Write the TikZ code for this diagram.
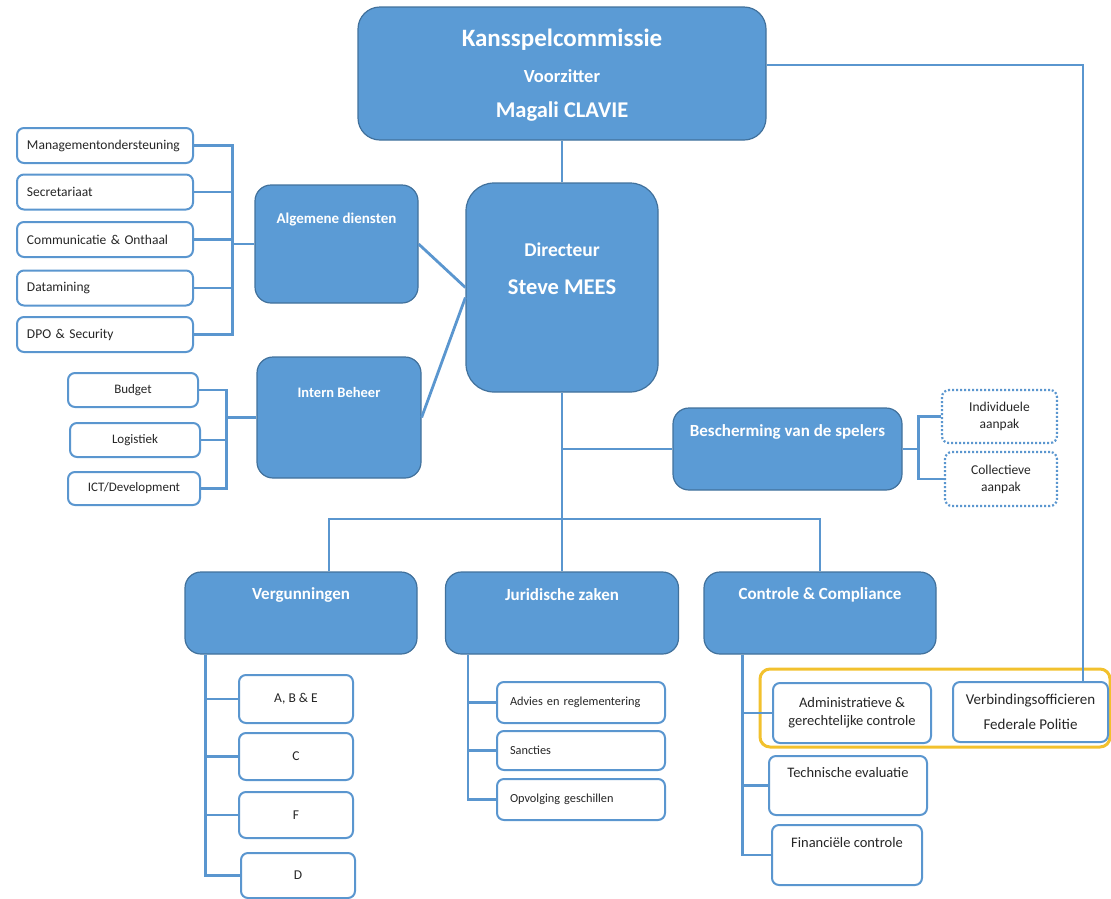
\documentclass[tikz,border=0pt]{standalone}
\usepackage{fontspec}
\setmainfont{Carlito}
\usetikzlibrary{positioning}
\definecolor{kspblue}{HTML}{5B9BD5}
\definecolor{kspedge}{HTML}{41719C}
\definecolor{kspline}{HTML}{5A96CF}
\definecolor{kspgold}{HTML}{F2C12E}

\begin{document}
\begin{tikzpicture}[x=1pt,y=-1pt,
  unit/.style={draw=kspedge,fill=kspblue,line width=1.2pt,rounded corners=16pt},
  unittxt/.style={text=white,font=\bfseries\fontsize{17}{20}\selectfont,inner sep=0pt},
  sub/.style={draw=kspline,fill=white,line width=2pt,rounded corners=7pt,text=black!85,
    font=\fontsize{13.5}{17}\selectfont,align=center},
  leftsub/.style={sub,align=left,inner xsep=10pt},
  dotsub/.style={sub,dotted,line width=2.2pt,font=\fontsize{13.5}{17}\selectfont},
  subtxt/.style={text=black!85,font=\fontsize{14.5}{18}\selectfont,inner sep=0pt},
  link/.style={draw=kspline,line width=2.8pt}]
\useasboundingbox (0,0) rectangle (1111,898);

\draw[draw=kspgold,line width=3pt,rounded corners=10pt] (760,669) rectangle (1110,747);

\node[unit,minimum width=408pt,minimum height=133pt,rounded corners=22pt] (ksc) at (562,73.5) {};
\node[unittxt,font=\bfseries\fontsize{25}{30}\selectfont] (ksctxt) at (562,40) {Kansspelcommissie};
\node[unittxt,font=\bfseries\fontsize{18.5}{22}\selectfont] (kscrole) at (562,76) {Voorzitter};
\node[unittxt,font=\bfseries\fontsize{22.5}{27}\selectfont] (kscname) at (562,112) {Magali CLAVIE};

\node[unit,minimum width=192pt,minimum height=209pt,rounded corners=28pt] (dir) at (562,287.5) {};
\node[unittxt,font=\bfseries\fontsize{19.5}{23}\selectfont] (dirtxt) at (562,250) {Directeur};
\node[unittxt,font=\bfseries\fontsize{22.5}{27}\selectfont] (dirname) at (562,287) {Steve MEES};

\node[unit,minimum width=163pt,minimum height=118pt] (alg) at (336.5,244) {};
\node[unittxt,font=\bfseries\fontsize{15}{18}\selectfont] (algtxt) at (336.5,220) {Algemene diensten};
\node[unit,minimum width=164pt,minimum height=121pt] (intern) at (339,417.5) {};
\node[unittxt,font=\bfseries\fontsize{14.5}{18}\selectfont] (interntxt) at (339,392) {Intern Beheer};
\node[unit,minimum width=229pt,minimum height=82pt] (besch) at (787.5,449) {};
\node[unittxt] (beschtxt) at (787.5,432) {Bescherming van de spelers};
\node[unit,minimum width=232pt,minimum height=82pt] (verg) at (301,613) {};
\node[unittxt] (vergtxt) at (301,595) {Vergunningen};
\node[unit,minimum width=233pt,minimum height=82pt] (jur) at (562,613) {};
\node[unittxt] (jurtxt) at (562,595) {Juridische zaken};
\node[unit,minimum width=232pt,minimum height=82pt] (contr) at (820,613) {};
\node[unittxt] (contrtxt) at (820,595) {Controle \& Compliance};

\node[leftsub,text width=156pt,minimum height=35pt] (mgmt) at (105,145.5) {Managementondersteuning};
\node[leftsub,text width=156pt,minimum height=35pt] (secr) at (105,192) {Secretariaat};
\node[leftsub,text width=156pt,minimum height=35pt] (comm) at (105,239.5) {Communicatie \& Onthaal};
\node[leftsub,text width=156pt,minimum height=35pt] (data) at (105,288) {Datamining};
\node[leftsub,text width=156pt,minimum height=35pt] (dpo) at (105,334.5) {DPO \& Security};

\node[sub,minimum width=130pt,minimum height=34pt,font=\fontsize{13}{17}\selectfont] (budget) at (133,390) {Budget};
\node[sub,minimum width=130pt,minimum height=34pt,font=\fontsize{13}{17}\selectfont] (logi) at (135,440) {Logistiek};
\node[sub,minimum width=132pt,minimum height=33pt,font=\fontsize{13}{17}\selectfont] (ict) at (134,488.5) {ICT/Development};

\node[dotsub,minimum width=115pt,minimum height=53pt] (indiv) at (999.5,416.5) {Individuele\\aanpak};
\node[dotsub,minimum width=112pt,minimum height=54pt] (coll) at (1001,479) {Collectieve\\aanpak};

\node[sub,minimum width=114pt,minimum height=48pt] (abe) at (296,699) {A, B \& E};
\node[sub,minimum width=114pt,minimum height=47pt] (cc) at (296,756.5) {C};
\node[sub,minimum width=114pt,minimum height=46pt] (ff) at (296,815) {F};
\node[sub,minimum width=114pt,minimum height=45pt] (dd) at (298,875.5) {D};

\node[leftsub,text width=142pt,minimum height=41pt,inner xsep=13pt,font=\fontsize{12.3}{15}\selectfont] (advies) at (581,702.5) {Advies en reglementering};
\node[leftsub,text width=142pt,minimum height=39pt,inner xsep=13pt,font=\fontsize{12.3}{15}\selectfont] (sanc) at (581,750.5) {Sancties};
\node[leftsub,text width=142pt,minimum height=41pt,inner xsep=13pt,font=\fontsize{12.3}{15}\selectfont] (opv) at (581,799.5) {Opvolging geschillen};

\node[sub,minimum width=158pt,minimum height=60pt,font=\fontsize{14.5}{18}\selectfont] (admin) at (852,713) {Administratieve \&\\gerechtelijke controle};
\node[sub,minimum width=158pt,minimum height=59pt] (tech) at (848,785.5) {};
\node[subtxt] (techtxt) at (848,773) {Technische evaluatie};
\node[sub,minimum width=150pt,minimum height=60pt] (fin) at (847,855) {};
\node[subtxt] (fintxt) at (847,843) {Financiële controle};
\node[sub,minimum width=155pt,minimum height=60pt,font=\fontsize{15}{18}\selectfont] (verb) at (1030.5,712) {Verbindingsofficieren\\[7pt]Federale Politie};

\draw[link] (ksc.south) -- (dir.north);
\draw[link] ([yshift=8.5pt]ksc.east) -| ([xshift=52.5pt]verb.north);
\draw[link] (alg.east) -- (dir.west);
\draw[link] (intern.east) -- ([yshift=-10pt]dir.west);
\coordinate (hub) at (562,519);
\draw[link] (dir.south) -- (jur.north);
\draw[link] ([xshift=28pt]verg.north) |- (hub) -| (contr.north);
\draw[link] (dir.south |- besch.west) -- (besch.west);
\draw[link] (besch.east) -- ++(16,0) coordinate (bfork);
\draw[link] (indiv.west) -| (bfork) |- (coll.west);

\foreach \n in {mgmt,secr,comm,data,dpo}
  \draw[link] (alg.west) -- ++(-22,0) |- (\n.east);
\foreach \n in {budget,logi,ict}
  \draw[link] (intern.west) -- ++(-30,0) |- (\n.east);
\foreach \n in {abe,cc,ff,dd}
  \draw[link] ([xshift=21pt]verg.south west) |- (\n.west);
\foreach \n in {advies,sanc,opv}
  \draw[link] ([xshift=23pt]jur.south west) |- (\n.west);
\foreach \n in {admin,tech,fin}
  \draw[link] ([xshift=39pt]contr.south west) |- (\n.west);
\end{tikzpicture}
\end{document}
